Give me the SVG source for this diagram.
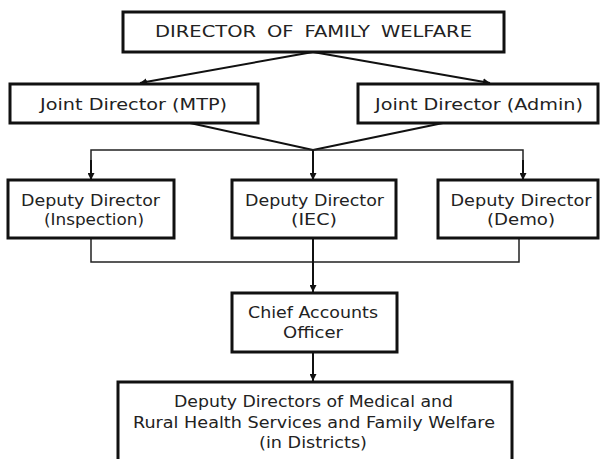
<svg xmlns="http://www.w3.org/2000/svg" width="600" height="459" viewBox="0 0 600 459">
  <defs>
    <marker id="arrow" viewBox="0 0 10 10" refX="10" refY="5" markerWidth="7" markerHeight="7" markerUnits="userSpaceOnUse" orient="auto">
      <path d="M0,0 L10,5 L0,10 z" fill="#111"/>
    </marker>
  </defs>
  <style>
    .box { fill: #fff; stroke: #111; stroke-width: 3; }
    .label { font-family: "DejaVu Sans", Verdana, sans-serif; font-size: 16.5px; fill: #222; text-anchor: middle; }
    .edge { fill: none; stroke: #111; stroke-width: 2; }
    .thin { fill: none; stroke: #222; stroke-width: 1.5; }
  </style>
  <rect width="600" height="459" fill="#fff"/>

  <g id="connectors">
    <!-- director to joint directors -->
    <line class="edge" x1="313" y1="52" x2="140" y2="83" stroke-width="2.5" marker-end="url(#arrow)"/>
    <line class="edge" x1="313" y1="52" x2="490" y2="83" stroke-width="2.5" marker-end="url(#arrow)"/>
    <!-- joint directors merge -->
    <line class="edge" x1="190" y1="123" x2="313" y2="150"/>
    <line class="edge" x1="443" y1="123" x2="313" y2="150"/>
    <!-- distribution bar to deputies -->
    <polyline class="thin" points="91,179 91,150 523,150 523,179"/>
    <line class="edge" x1="91" y1="160" x2="91" y2="180" marker-end="url(#arrow)"/>
    <line class="edge" x1="523" y1="160" x2="523" y2="180" marker-end="url(#arrow)"/>
    <line class="edge" x1="313" y1="150" x2="313" y2="180" marker-end="url(#arrow)"/>
    <!-- deputies merge to chief accounts officer -->
    <polyline class="thin" points="91,238 91,262 519,262 519,238"/>
    <line class="edge" x1="313" y1="238" x2="313" y2="292" stroke-width="1.8" marker-end="url(#arrow)"/>
    <!-- chief accounts officer to districts -->
    <line class="edge" x1="313" y1="352" x2="313" y2="381" stroke-width="1.8" marker-end="url(#arrow)"/>
  </g>

  <g id="director">
    <rect class="box" x="123" y="12" width="381" height="40"/>
    <text class="label" x="313.5" y="37" font-size="17" word-spacing="4" textLength="317" lengthAdjust="spacingAndGlyphs">DIRECTOR OF FAMILY WELFARE</text>
  </g>

  <g id="joint-director-mtp">
    <rect class="box" x="10" y="84" width="248" height="39"/>
    <text class="label" x="133.5" y="110" textLength="187" lengthAdjust="spacingAndGlyphs">Joint Director (MTP)</text>
  </g>

  <g id="joint-director-admin">
    <rect class="box" x="358" y="84" width="240" height="39"/>
    <text class="label" x="479" y="110" textLength="208" lengthAdjust="spacingAndGlyphs">Joint Director (Admin)</text>
  </g>

  <g id="deputy-inspection">
    <rect class="box" x="8" y="180" width="166" height="58"/>
    <text class="label" x="90.5" y="206" textLength="139" lengthAdjust="spacingAndGlyphs">Deputy Director</text>
    <text class="label" x="94" y="225" textLength="100" lengthAdjust="spacingAndGlyphs">(Inspection)</text>
  </g>

  <g id="deputy-iec">
    <rect class="box" x="232" y="180" width="164" height="58"/>
    <text class="label" x="314.5" y="206" textLength="139" lengthAdjust="spacingAndGlyphs">Deputy Director</text>
    <text class="label" x="314" y="225" textLength="46" lengthAdjust="spacingAndGlyphs">(IEC)</text>
  </g>

  <g id="deputy-demo">
    <rect class="box" x="438" y="180" width="160" height="58"/>
    <text class="label" x="521" y="206" textLength="141" lengthAdjust="spacingAndGlyphs">Deputy Director</text>
    <text class="label" x="521" y="225" textLength="68" lengthAdjust="spacingAndGlyphs">(Demo)</text>
  </g>

  <g id="chief-accounts-officer">
    <rect class="box" x="232" y="293" width="165" height="59"/>
    <text class="label" x="313" y="318" textLength="130" lengthAdjust="spacingAndGlyphs">Chief Accounts</text>
    <text class="label" x="313" y="338" textLength="60" lengthAdjust="spacingAndGlyphs">Officer</text>
  </g>

  <g id="district-deputies">
    <rect class="box" x="118" y="382" width="394" height="80"/>
    <text class="label" x="313.5" y="407" textLength="279" lengthAdjust="spacingAndGlyphs">Deputy Directors of Medical and</text>
    <text class="label" x="314" y="428" textLength="362" lengthAdjust="spacingAndGlyphs">Rural Health Services and Family Welfare</text>
    <text class="label" x="313" y="448" textLength="108" lengthAdjust="spacingAndGlyphs">(in Districts)</text>
  </g>
</svg>
